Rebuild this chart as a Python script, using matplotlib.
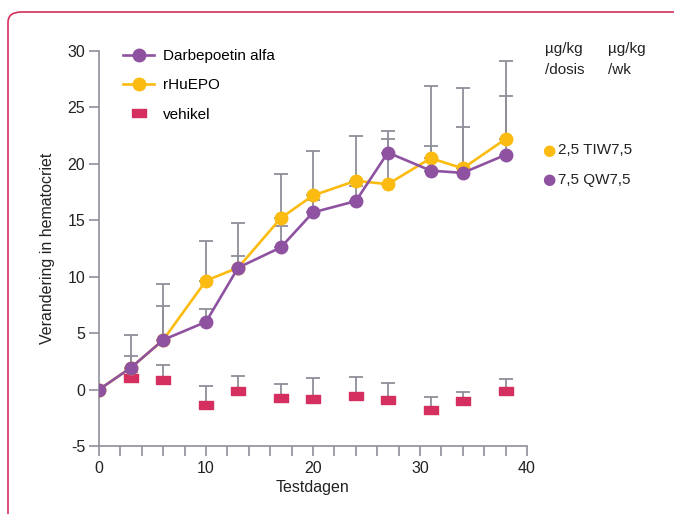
import matplotlib
matplotlib.use('Agg')
import matplotlib.pyplot as plt
from matplotlib.lines import Line2D
from matplotlib.patches import FancyBboxPatch
import numpy as np

plt.rcParams['font.family'] = ['Liberation Sans', 'DejaVu Sans']
plt.rcParams['axes.unicode_minus'] = False

# data
days = [0, 3, 6, 10, 13, 17, 20, 24, 27, 31, 34, 38]
darbepoetin = [0, 1.95, 4.4, 6.0, 10.8, 12.6, 15.7, 16.7, 21.0, 19.4, 19.2, 20.8]
darbepoetin_top = [0, 2.95, 7.4, 7.1, 11.8, 14.5, 16.8, 18.0, 22.9, 21.6, 23.3, 26.0]
rhuepo = [0, 1.95, 4.4, 9.65, 10.8, 15.2, 17.2, 18.5, 18.2, 20.5, 19.6, 22.2]
rhuepo_top = [0, 4.8, 9.35, 13.2, 14.8, 19.1, 21.1, 22.5, 22.2, 26.9, 26.7, 29.1]
veh_days = [3, 6, 10, 13, 17, 20, 24, 27, 31, 34, 38]
vehikel = [1.0, 0.85, -1.35, -0.1, -0.75, -0.8, -0.55, -0.9, -1.8, -1.0, -0.1]
vehikel_top = [1.6, 2.15, 0.3, 1.2, 0.5, 1.0, 1.1, 0.55, -0.65, -0.25, 0.9]

purple = '#8e52a1'
yellow = '#fbbb10'
crimson = '#d42f5f'
grey = '#8d8f99'
textc = '#222222'

fig = plt.figure(figsize=(6.74, 5.14), dpi=100)

# rounded frame around the figure
frame = FancyBboxPatch((8 / 674, -0.1), 1.2, 1.1 - 12 / 514,
                       boxstyle='round,pad=0,rounding_size=0.02',
                       transform=fig.transFigure, fill=False,
                       edgecolor=crimson, linewidth=1.2)
fig.patches.append(frame)

ax = fig.add_axes([99 / 674, 68 / 514, 428 / 674, 395 / 514])

def upper_err(vals, tops):
    return [np.zeros(len(vals)), np.array(tops) - np.array(vals)]

ekw = dict(fmt='none', ecolor=grey, elinewidth=1.3, capsize=5, capthick=1.3, zorder=1)
ax.errorbar(veh_days, vehikel, yerr=upper_err(vehikel, vehikel_top), **ekw)
ax.errorbar(days, rhuepo, yerr=upper_err(rhuepo, rhuepo_top), **ekw)
ax.errorbar(days, darbepoetin, yerr=upper_err(darbepoetin, darbepoetin_top), **ekw)

rect = [(-1, -0.68), (1, -0.68), (1, 0.68), (-1, 0.68), (-1, -0.68)]
ax.plot(veh_days, vehikel, linestyle='none', marker=rect, markersize=9.5,
        color=crimson, zorder=3)
ax.plot(days, rhuepo, color=yellow, lw=1.9, marker='o', markersize=9, zorder=3)
ax.plot(days, darbepoetin, color=purple, lw=1.9, marker='o', markersize=9, zorder=4)

ax.set_xlim(0, 40)
ax.set_ylim(-5, 30)
ax.set_xticks(np.arange(0, 41, 10))
ax.set_xticks(np.arange(0, 41, 2), minor=True)
ax.set_yticks(np.arange(-5, 31, 5))
for s in ['top', 'right']:
    ax.spines[s].set_visible(False)
for s in ['left', 'bottom']:
    ax.spines[s].set_color(grey)
    ax.spines[s].set_linewidth(1.2)
ax.tick_params(axis='both', which='both', color=grey, width=1.2, length=7,
               labelsize=11.5, labelcolor=textc)
ax.tick_params(axis='y', pad=3)
ax.set_xlabel('Testdagen', fontsize=11.5, color=textc, labelpad=3)
ax.set_ylabel('Verandering in hematocriet', fontsize=11.5, color=textc, labelpad=9)

handles = [
    Line2D([], [], color=purple, lw=1.9, marker='o', markersize=9),
    Line2D([], [], color=yellow, lw=1.9, marker='o', markersize=9),
    Line2D([], [], color=crimson, linestyle='none', marker=rect, markersize=9.5),
]
ax.legend(handles, ['Darbepoetin alfa', 'rHuEPO', 'vehikel'],
          loc='upper left', bbox_to_anchor=(0.025, 1.04), frameon=False,
          fontsize=11, handlelength=2.0, labelspacing=1.0, handletextpad=0.6)

# dosing table on the right
tkw = dict(fontsize=11, color=textc, va='top', ha='left', linespacing=1.6)
fig.text(545 / 674, 1 - 42 / 514, 'µg/kg\n/dosis', **tkw)
fig.text(608 / 674, 1 - 42 / 514, 'µg/kg\n/wk', **tkw)
fig.text(549 / 674, 1 - 150 / 514, '●', color=yellow, fontsize=11, va='center',
         ha='center', family='DejaVu Sans')
fig.text(558 / 674, 1 - 150 / 514, '2,5 TIW7,5', fontsize=11, color=textc,
         va='center', ha='left')
fig.text(549 / 674, 1 - 180 / 514, '●', color=purple, fontsize=11, va='center',
         ha='center', family='DejaVu Sans')
fig.text(558 / 674, 1 - 180 / 514, '7,5 QW7,5', fontsize=11, color=textc,
         va='center', ha='left')

fig.savefig('out.png', dpi=100)
